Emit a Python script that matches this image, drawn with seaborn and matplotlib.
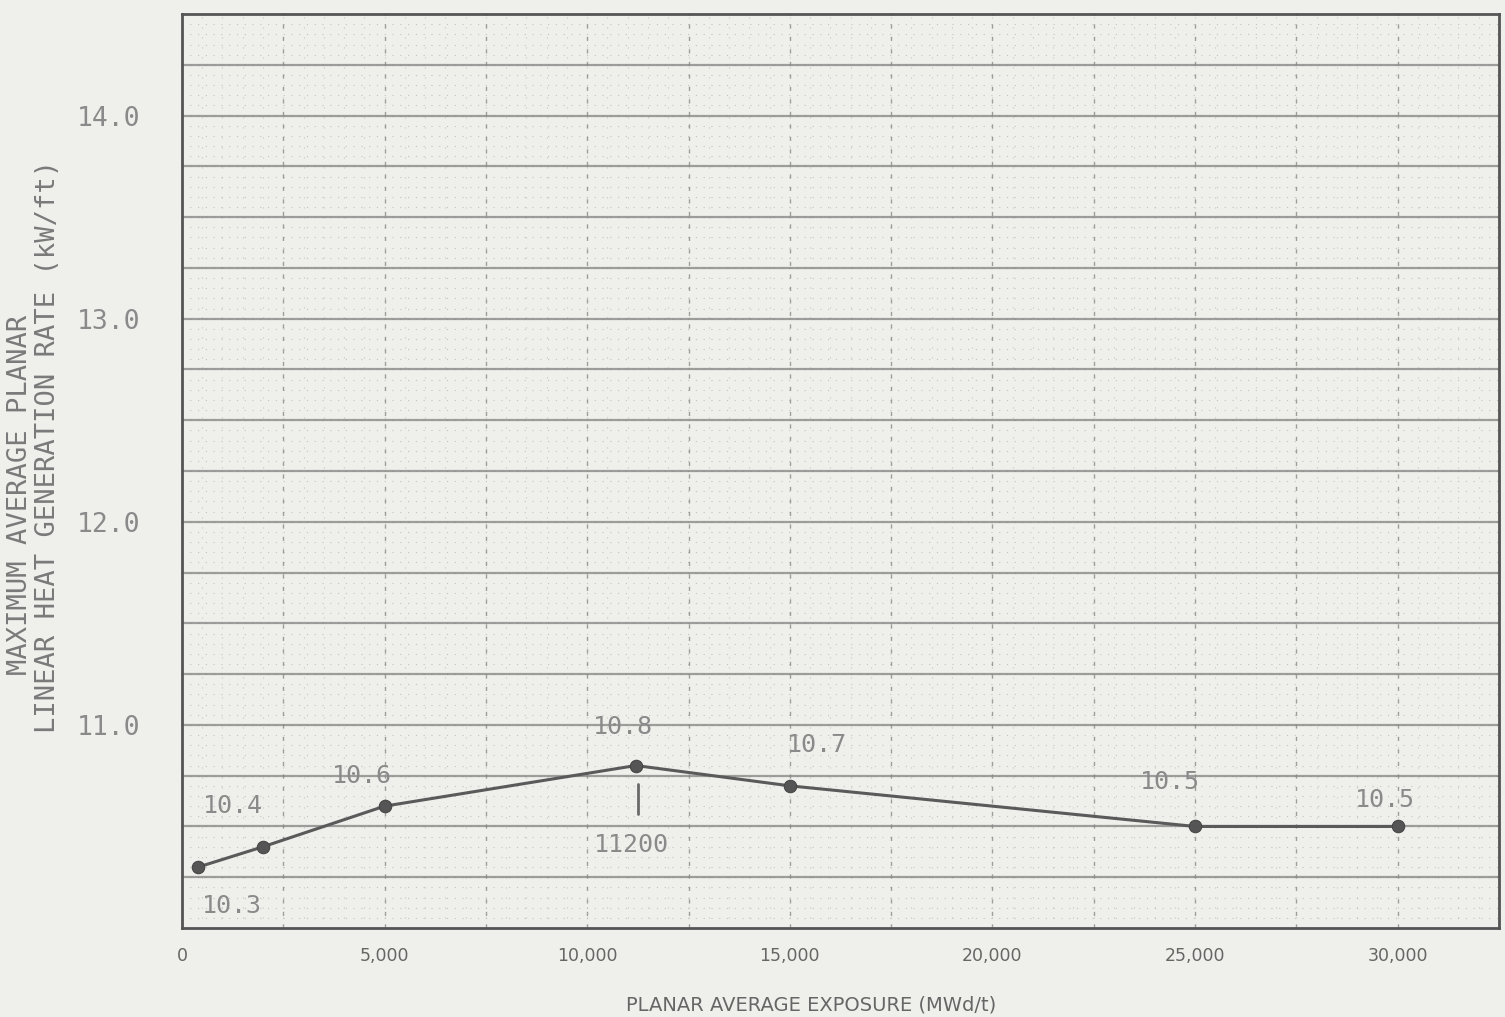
import numpy as np
import pandas as pd
import matplotlib
matplotlib.use("Agg")
import matplotlib.pyplot as plt
import seaborn as sns
from matplotlib.ticker import FixedLocator

# ---- data ----
exposure = [400, 2000, 5000, 11200, 15000, 25000, 30000]
maplhgr = [10.3, 10.4, 10.6, 10.8, 10.7, 10.5, 10.5]
point_labels = ["10.3", "10.4", "10.6", "10.8", "10.7", "10.5", "10.5"]
label_x = [1230, 1260, 4440, 10880, 15660, 24370, 29680]
label_y = [10.11, 10.60, 10.75, 10.99, 10.90, 10.72, 10.63]
x_ticks = [0, 5000, 10000, 15000, 20000, 25000, 30000]
x_tick_labels = ["0", "5,000", "10,000", "15,000", "20,000", "25,000", "30,000"]
y_ticks = [11.0, 12.0, 13.0, 14.0]
y_tick_labels = ["11.0", "12.0", "13.0", "14.0"]
note_text = "11200"
note_x = 11100
note_y = 10.41
note_line_y = [10.71, 10.56]
ylabel_line1 = "MAXIMUM AVERAGE PLANAR"
ylabel_line2 = "LINEAR HEAT GENERATION RATE (kW/ft)"
xlabel_text = "PLANAR AVERAGE EXPOSURE (MWd/t)"

df = pd.DataFrame({"exposure": exposure, "maplhgr": maplhgr})

sns.set_style("white")
plt.rcParams["font.family"] = ["DejaVu Sans Mono", "DejaVu Sans"]

BG = "#efefeb"
INK = "#5a5a5a"
TXT = "#8a8a8a"

fig = plt.figure(figsize=(15.05, 10.17), dpi=100, facecolor=BG)
ax = fig.add_axes([0.1209, 0.0875, 0.8751, 0.8987])
ax.set_facecolor(BG)

ax.set_xlim(0, 32500)
ax.set_ylim(10.0, 14.5)

# graph-paper grid
for yv in np.arange(10.25, 14.5, 0.25):
    ax.axhline(yv, color="#7a7a7a", lw=1.6, alpha=0.7, zorder=1)
for yv in np.arange(10.05, 14.5, 0.05):
    ax.axhline(yv, color="#b0b0b0", lw=0.8, ls=(0, (1, 6)), alpha=0.7, zorder=0.5)
for xv in np.arange(2500, 32500, 2500):
    ax.axvline(xv, color="#8a8a8a", lw=1.0, ls=(0, (3, 6)), alpha=0.8, zorder=1)
for xv in np.arange(500, 32500, 500):
    ax.axvline(xv, color="#b5b5b5", lw=0.8, ls=(0, (1, 8)), alpha=0.7, zorder=0.5)

sns.lineplot(data=df, x="exposure", y="maplhgr", ax=ax, color=INK, lw=2.2,
             marker="o", markersize=9, markeredgecolor="#444444",
             markerfacecolor="#555555", zorder=3)

for t, lx, ly in zip(point_labels, label_x, label_y):
    ax.text(lx, ly, t, fontsize=18, color=TXT, ha="center", va="center", zorder=4)

ax.text(note_x, note_y, note_text, fontsize=18, color=TXT, ha="center",
        va="center", zorder=4)
ax.plot([11250, 11250], note_line_y, color="#6a6a6a", lw=2, zorder=3)

ax.set_xticks(x_ticks)
ax.set_xticklabels(x_tick_labels, fontsize=12.5, color="#666666",
                   family="DejaVu Sans")
ax.set_yticks(y_ticks)
ax.set_yticklabels(y_tick_labels, fontsize=19, color=TXT)
ax.tick_params(axis="both", length=0)
ax.tick_params(axis="x", pad=14)
ax.tick_params(axis="y", pad=30)
ax.set_xlabel("")
ax.set_ylabel("")

# axis titles placed in figure pixel coordinates
fig.text(811 / 1505, 1 - 1005 / 1017, xlabel_text, fontsize=14,
         color="#666666", family="DejaVu Sans", ha="center", va="center")
fig.text(20 / 1505, 1 - 495 / 1017, ylabel_line1, fontsize=19.5,
         color="#7a7a7a", rotation=90, ha="center", va="center")
fig.text(48 / 1505, 1 - 446 / 1017, ylabel_line2, fontsize=19.5,
         color="#7a7a7a", rotation=90, ha="center", va="center")

for s in ax.spines.values():
    s.set_color("#555555")
    s.set_linewidth(2.0)
    s.set_visible(True)

fig.savefig("out.png", dpi=100, facecolor=BG)
